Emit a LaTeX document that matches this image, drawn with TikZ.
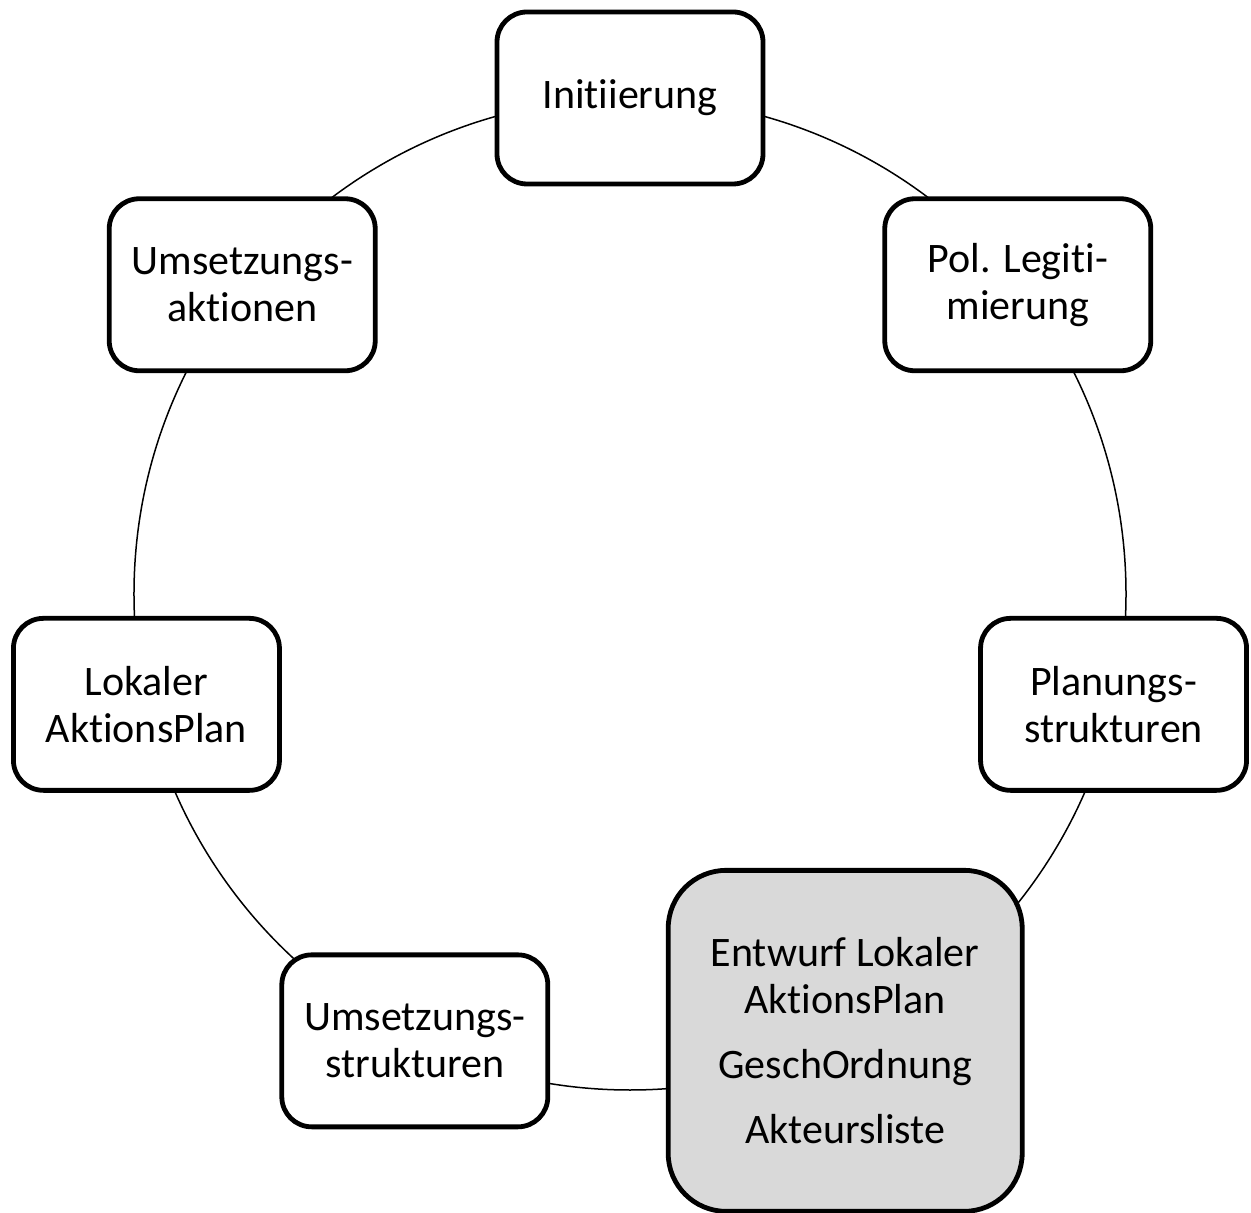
\documentclass[tikz,border=0pt]{standalone}
\usepackage{fontspec}
\setmainfont{Carlito}[Ligatures=NoCommon]
\definecolor{stagegray}{HTML}{D9D9D9}
\newcommand{\tsep}{t\kern0pt i}

\begin{document}
\begin{tikzpicture}[
	stage/.style={draw, line width=2.4pt, fill=white, rounded corners=15pt, minimum width=133pt, minimum height=86pt, inner sep=0pt, align=center, font=\fontsize{21pt}{23.5pt}\selectfont},
	current/.style={stage, fill=stagegray, rounded corners=29pt, minimum width=177pt, minimum height=170.5pt}]
	\useasboundingbox (-315pt,-309.5pt) rectangle (310.5pt,297pt);
	\coordinate (mid) at (0,0);
	\draw [line width=0.75pt] (mid) circle [radius=248pt];
	\node [stage] (init) at (90:248pt) {Ini\tsep{}ierung};
	\node [stage] (legit) at (38.571:248pt) {Pol. Legi\tsep-\\mierung};
	\node [stage] (plan) at (-12.857:248pt) {Planungs-\\strukturen};
	\node [current] (draft) at (-64.286:248pt) {Entwurf Lokaler\\Ak\tsep{}onsPlan\\[9pt]GeschOrdnung\\[9pt]Akteursliste};
	\node [stage] (impl) at (-115.714:248pt) {Umsetzungs-\\strukturen};
	\node [stage] (lap) at (-167.143:248pt) {Lokaler\\Ak\tsep{}onsPlan};
	\node [stage] (act) at (141.429:248pt) {Umsetzungs-\\ak\tsep{}onen};
\end{tikzpicture}
\end{document}
